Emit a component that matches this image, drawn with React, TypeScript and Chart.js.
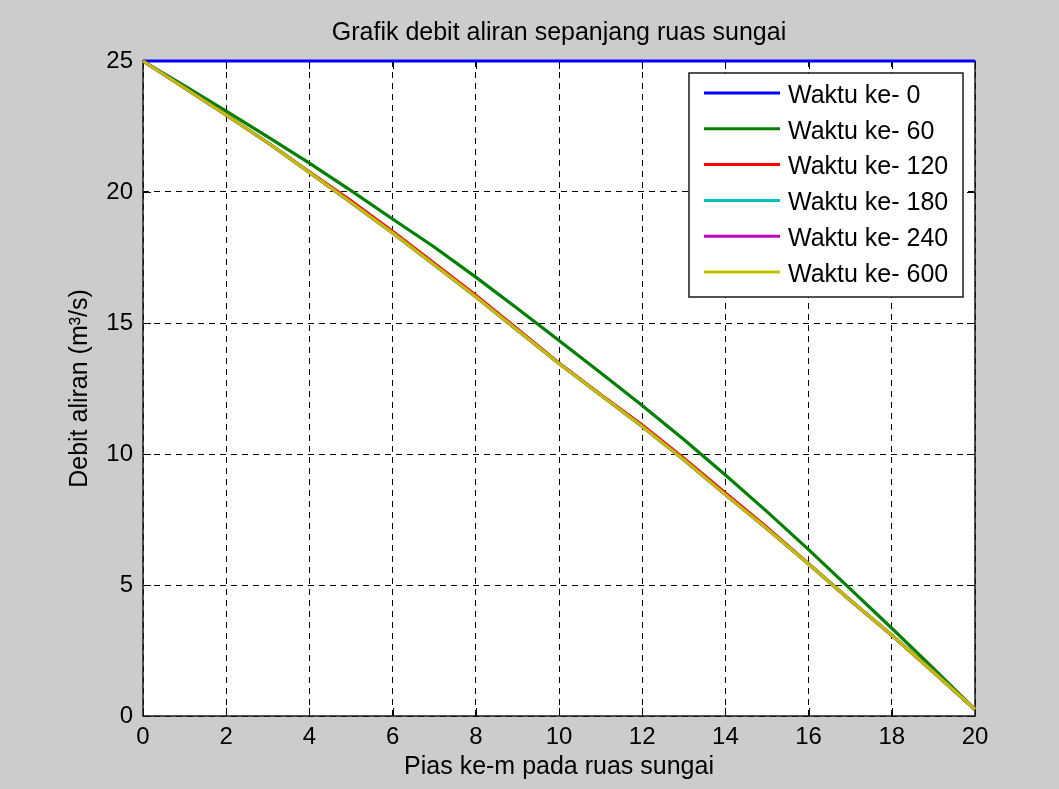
import React, { useEffect, useRef } from "react";
import { Chart, registerables } from "chart.js";

Chart.register(...registerables);

// ---- data ----
const xValues = [0, 1, 2, 3, 4, 5, 6, 7, 8, 9, 10, 11, 12, 13, 14, 15, 16, 17, 18, 19, 20];

const waktu0 = [25, 25, 25, 25, 25, 25, 25, 25, 25, 25, 25, 25, 25, 25, 25, 25, 25, 25, 25, 25, 25];
const waktu60 = [25, 24.05, 23.09, 22.1, 21.1, 20.05, 18.97, 17.9, 16.75, 15.55, 14.33, 13.1, 11.85, 10.55, 9.2, 7.8, 6.35, 4.85, 3.35, 1.82, 0.25];
const waktu120 = [25, 23.97, 22.94, 21.88, 20.77, 19.66, 18.5, 17.28, 16.06, 14.77, 13.47, 12.27, 11.11, 9.84, 8.51, 7.2, 5.81, 4.42, 3.08, 1.68, 0.25];
const waktu180 = [25, 23.97, 22.94, 21.88, 20.75, 19.6, 18.44, 17.22, 16.0, 14.72, 13.45, 12.25, 11.05, 9.78, 8.45, 7.15, 5.8, 4.42, 3.08, 1.68, 0.25];
const waktu240 = [25, 23.97, 22.94, 21.88, 20.75, 19.6, 18.44, 17.22, 16.0, 14.72, 13.45, 12.25, 11.05, 9.78, 8.45, 7.15, 5.8, 4.42, 3.08, 1.68, 0.25];
const waktu600 = [25, 23.97, 22.94, 21.88, 20.75, 19.6, 18.44, 17.22, 16.0, 14.72, 13.45, 12.25, 11.05, 9.78, 8.45, 7.15, 5.8, 4.42, 3.08, 1.68, 0.25];

const seriesLabels = ["Waktu ke- 0", "Waktu ke- 60", "Waktu ke- 120", "Waktu ke- 180", "Waktu ke- 240", "Waktu ke- 600"];
const seriesValues = [waktu0, waktu60, waktu120, waktu180, waktu240, waktu600];
const seriesColors = ["#0000ff", "#008000", "#ff0000", "#00bfbf", "#bf00bf", "#bfbf00"];

const titleText = "Grafik debit aliran sepanjang ruas sungai";
const xTitle = "Pias ke-m pada ruas sungai";
const yTitle = "Debit aliran (m³/s)";

const FONT = '"Liberation Sans", Arial, Helvetica, sans-serif';
const FS = 25;
const TICK_FS = 24;

const matlabPlugin = {
  id: "matlabLook",
  beforeDraw(chart: any) {
    const { ctx, chartArea: a, width, height } = chart;
    ctx.save();
    ctx.fillStyle = "#cccccc";
    ctx.fillRect(0, 0, width, height);
    ctx.fillStyle = "#ffffff";
    ctx.fillRect(a.left, a.top, a.right - a.left, a.bottom - a.top);
    ctx.restore();
  },
  beforeDatasetsDraw(chart: any) {
    const { ctx, chartArea: a, scales } = chart;
    const xs = scales.x;
    const ys = scales.y;
    const L = 8;
    ctx.save();
    ctx.strokeStyle = "#000000";
    ctx.lineWidth = 1;
    ctx.setLineDash([]);
    ctx.beginPath();
    xs.ticks.forEach((t: any) => {
      const px = Math.round(xs.getPixelForValue(t.value)) + 0.5;
      ctx.moveTo(px, a.bottom);
      ctx.lineTo(px, a.bottom - L);
      ctx.moveTo(px, a.top);
      ctx.lineTo(px, a.top + L);
    });
    ys.ticks.forEach((t: any) => {
      const py = Math.round(ys.getPixelForValue(t.value)) + 0.5;
      ctx.moveTo(a.left, py);
      ctx.lineTo(a.left + L, py);
      ctx.moveTo(a.right, py);
      ctx.lineTo(a.right - L, py);
    });
    ctx.stroke();
    ctx.lineWidth = 1.5;
    ctx.strokeStyle = "#1a1a1a";
    ctx.strokeRect(a.left, a.top, a.right - a.left, a.bottom - a.top);
    ctx.restore();
  },
  afterDraw(chart: any) {
    const { ctx, chartArea: a } = chart;
    const ds = chart.data.datasets;
    const boxW = 274;
    const boxH = 224;
    const bx = a.right - 12 - boxW;
    const by = a.top + 12;
    ctx.save();
    ctx.fillStyle = "#ffffff";
    ctx.fillRect(bx, by, boxW, boxH);
    ctx.strokeStyle = "#1a1a1a";
    ctx.lineWidth = 1.5;
    ctx.strokeRect(bx, by, boxW, boxH);
    ctx.font = `${FS}px ${FONT}`;
    ctx.textBaseline = "middle";
    ctx.textAlign = "left";
    ds.forEach((d: any, i: number) => {
      const cy = by + 20 + i * 35.8;
      ctx.strokeStyle = d.borderColor;
      ctx.lineWidth = 3;
      ctx.beginPath();
      ctx.moveTo(bx + 15, cy);
      ctx.lineTo(bx + 91, cy);
      ctx.stroke();
      ctx.fillStyle = "#000000";
      ctx.fillText(d.label, bx + 99, cy + 3);
    });
    ctx.restore();
  },
};

export default function App() {
  const canvasRef = useRef<HTMLCanvasElement | null>(null);

  useEffect(() => {
    if (!canvasRef.current) return;
    const n = seriesLabels.length;
    const datasets = seriesLabels.map((label, i) => ({
      label,
      data: xValues.map((x, j) => ({ x, y: seriesValues[i][j] })),
      borderColor: seriesColors[i],
      backgroundColor: seriesColors[i],
      borderWidth: 3.2,
      pointRadius: 0,
      pointHoverRadius: 0,
      tension: 0,
      fill: false,
      clip: false as any,
      order: n - 1 - i,
    }));

    const chart = new Chart(canvasRef.current, {
      type: "line",
      data: { datasets },
      plugins: [matlabPlugin],
      options: {
        responsive: false,
        animation: false,
        events: [],
        layout: { padding: { left: 0, right: 84, top: 0, bottom: 0 } },
        plugins: {
          legend: { display: false },
          tooltip: { enabled: false },
          title: {
            display: true,
            text: titleText,
            fullSize: false,
            color: "#000000",
            font: { family: FONT, size: FS, weight: "normal" as any },
            padding: { top: 18, bottom: 13 },
          },
        },
        scales: {
          x: {
            type: "linear",
            min: 0,
            max: 20,
            ticks: {
              stepSize: 2,
              color: "#000000",
              padding: 7,
              maxRotation: 0,
              font: { family: FONT, size: TICK_FS },
            },
            grid: { color: "#000000", lineWidth: 1, drawTicks: false },
            border: { display: false, dash: [6, 5] },
            title: {
              display: true,
              text: xTitle,
              color: "#000000",
              font: { family: FONT, size: FS },
              padding: { top: 0, bottom: 7 },
            },
            afterFit(scale: any) {
              scale.height = 73;
              scale.paddingLeft = 0;
              scale.paddingRight = 0;
            },
          },
          y: {
            type: "linear",
            min: 0,
            max: 25,
            ticks: {
              stepSize: 5,
              color: "#000000",
              padding: 10,
              font: { family: FONT, size: TICK_FS },
            },
            grid: { color: "#000000", lineWidth: 1, drawTicks: false },
            border: { display: false, dash: [6, 5] },
            title: {
              display: true,
              text: yTitle,
              color: "#000000",
              font: { family: FONT, size: FS },
              padding: { top: 65, bottom: 0 },
            },
            afterFit(scale: any) {
              scale.width = 143;
              scale.paddingTop = 0;
              scale.paddingBottom = 0;
            },
          },
        },
      },
    });
    return () => chart.destroy();
  }, []);

  return (
    <div style={{ position: "fixed", left: 0, top: 0, width: 1059, height: 789, background: "#cccccc" }}>
      <canvas ref={canvasRef} width={1059} height={789} style={{ display: "block" }} />
    </div>
  );
}
